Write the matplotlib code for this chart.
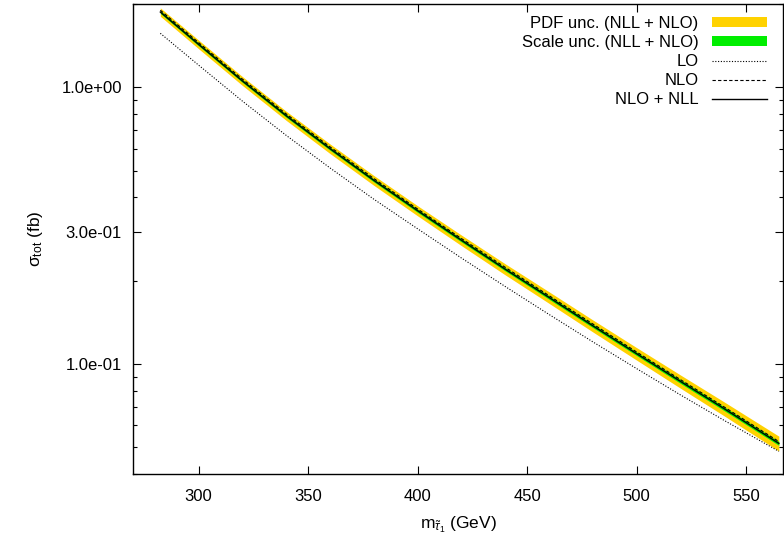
import matplotlib
matplotlib.use("Agg")
import matplotlib.pyplot as plt
from matplotlib.ticker import LogLocator, FixedLocator, FixedFormatter, NullFormatter
import numpy as np

plt.rcParams['font.family'] = ['Liberation Sans', 'DejaVu Sans']
plt.rcParams['mathtext.fontset'] = 'custom'
plt.rcParams['mathtext.rm'] = 'Liberation Sans'
plt.rcParams['mathtext.it'] = 'Liberation Sans:italic'

# stau mass (GeV) and cross sections (fb)
mass = [282.5, 300, 320, 340, 360, 380, 400, 420, 440, 460, 480, 500, 520, 540, 565]
nll = [1.871, 1.429, 1.054, 0.789, 0.600, 0.461, 0.358, 0.280, 0.220, 0.174, 0.1374, 0.1089, 0.0865, 0.0689, 0.0516]
nlo = [1.899, 1.450, 1.070, 0.801, 0.609, 0.468, 0.363, 0.284, 0.2235, 0.1766, 0.1395, 0.1105, 0.0878, 0.0699, 0.0524]
lo = [1.567, 1.202, 0.891, 0.670, 0.511, 0.394, 0.308, 0.2415, 0.1905, 0.1510, 0.1202, 0.0962, 0.0773, 0.0625, 0.0483]
# relative uncertainties
pdf_unc = [0.035, 0.036, 0.037, 0.038, 0.040, 0.041, 0.042, 0.044, 0.046, 0.048, 0.050, 0.052, 0.055, 0.058, 0.062]
scale_unc = [0.012, 0.012, 0.012, 0.013, 0.013, 0.013, 0.014, 0.014, 0.014, 0.015, 0.015, 0.015, 0.016, 0.016, 0.016]

m = np.array(mass)
c = np.array(nll)
pdf = np.array(pdf_unc)
sc = np.array(scale_unc)

fig = plt.figure(figsize=(7.84, 5.42), dpi=100)
ax = fig.add_axes([0.1696, 0.1255, 0.8294, 0.8671])

ax.fill_between(m, c * (1 - pdf), c * (1 + pdf), color='#ffd200', lw=0, label='PDF unc. (NLL + NLO)')
ax.fill_between(m, c * (1 - sc), c * (1 + sc), color='#00ee00', lw=0, label='Scale unc. (NLL + NLO)')
ax.plot(mass, lo, color='black', lw=0.8, ls=(0, (1, 1.5)), label='LO')
ax.plot(mass, nlo, color='black', lw=0.8, ls=(0, (3, 2)), label='NLO')
ax.plot(mass, nll, color='black', lw=1.0, ls='-', label='NLO + NLL')

ax.set_yscale('log')
ax.set_xlim(270, 567)
ax.set_ylim(0.04, 2.0)
ax.set_xticks([300, 350, 400, 450, 500, 550])
ax.yaxis.set_major_locator(FixedLocator([0.1, 0.3, 1.0]))
ax.yaxis.set_major_formatter(FixedFormatter(['1.0e-01', '3.0e-01', '1.0e+00']))
ax.yaxis.set_minor_locator(LogLocator(base=10, subs=np.arange(2, 10)))
ax.yaxis.set_minor_formatter(NullFormatter())

ax.tick_params(which='both', direction='in', top=True, right=True, labelsize=12, width=0.8)
ax.tick_params(axis='y', pad=8)
ax.tick_params(axis='x', pad=11)
ax.tick_params(which='major', length=6)
ax.tick_params(which='minor', length=3)
for s in ax.spines.values():
    s.set_linewidth(1.0)

ax.set_xlabel(r'$\mathregular{m}_{\tilde{\tau}_\mathregular{1}}$ (GeV)', fontsize=12.5, labelpad=7)
ax.set_ylabel(r'$\mathregular{\sigma_{tot}}$ (fb)', fontsize=12.5, labelpad=12)

ax.legend(loc='upper right', bbox_to_anchor=(0.993, 1.0), frameon=False, markerfirst=False,
          fontsize=12, handlelength=3.3, handleheight=0.55, handletextpad=0.8,
          labelspacing=0.25, borderaxespad=0.3)

fig.savefig('out.png', dpi=100)
